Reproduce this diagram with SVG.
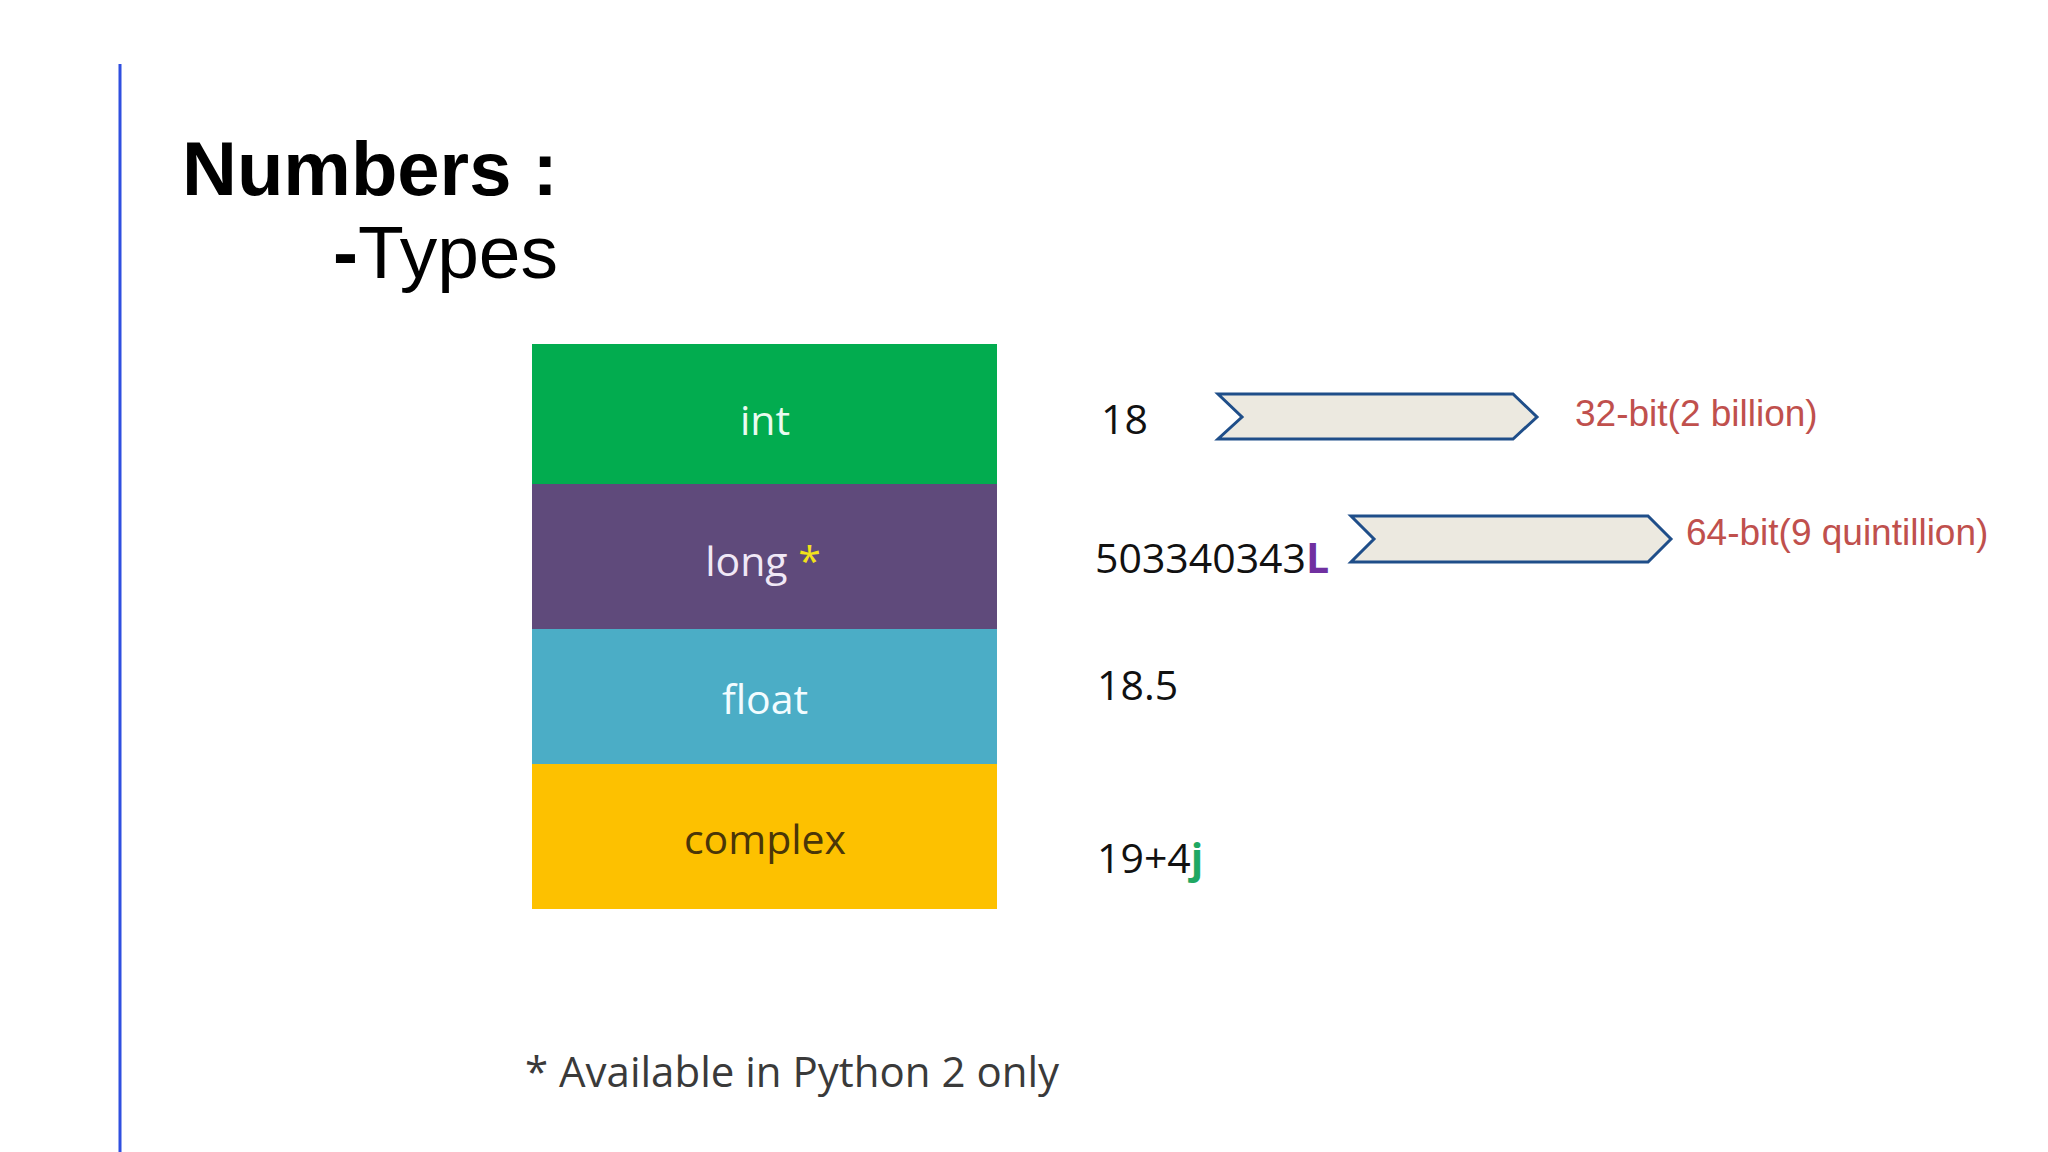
<svg xmlns="http://www.w3.org/2000/svg" width="2048" height="1152" viewBox="0 0 2048 1152">
  <defs>
    <style>
      .title { font-family: "Liberation Sans", Arial, sans-serif; fill: #000; }
      .lbl { font-family: "Open Sans", "Noto Sans", sans-serif; font-size: 41px; text-anchor: middle; }
      .val { font-family: "Open Sans", "Noto Sans", sans-serif; font-size: 41px; fill: #111; }
      .bits { font-family: "Liberation Sans", Arial, sans-serif; font-size: 37px; fill: #C0504D; }
      .chev { fill: #ECE9E0; stroke: #1F4E89; stroke-width: 3; stroke-linejoin: miter; }
      .note { font-family: "Open Sans", "Noto Sans", sans-serif; font-size: 42px; fill: #3a3a3a; }
    </style>
  </defs>
  <rect width="2048" height="1152" fill="#ffffff"/>
  <line x1="120" y1="64" x2="120" y2="1152" stroke="#2F4FE0" stroke-width="3"/>

  <g id="title">
    <text class="title" x="182" y="195" font-size="76" font-weight="bold">Numbers :</text>
    <text class="title" x="333" y="278" font-size="75"><tspan font-weight="bold">-</tspan>Types</text>
  </g>

  <g id="node-int">
    <rect x="532" y="344" width="465" height="140" fill="#02AC4F"/>
    <text class="lbl" x="765" y="435" fill="#EAFBF0">int</text>
  </g>
  <g id="node-long">
    <rect x="532" y="484" width="465" height="145" fill="#5F4A7B"/>
    <text class="lbl" x="763" y="576" fill="#F0E8F6">long <tspan fill="#F2E21A">*</tspan></text>
  </g>
  <g id="node-float">
    <rect x="532" y="629" width="465" height="135" fill="#4BADC6"/>
    <text class="lbl" x="765" y="714" fill="#F2FCFF">float</text>
  </g>
  <g id="node-complex">
    <rect x="532" y="764" width="465" height="145" fill="#FDC100"/>
    <text class="lbl" x="765" y="854" fill="#4A3608">complex</text>
  </g>

  <g id="values">
    <text class="val" x="1101" y="434">18</text>
    <text class="val" x="1095" y="573">503340343<tspan fill="#7030A0" font-weight="bold">L</tspan></text>
    <text class="val" x="1097" y="700">18.5</text>
    <text class="val" x="1097" y="873">19+4<tspan fill="#1FA862" font-weight="bold">j</tspan></text>
  </g>

  <g id="connectors">
    <polygon class="chev" points="1218,394 1513,394 1537,417 1513,439 1218,439 1242,417"/>
    <polygon class="chev" points="1351,516 1648,516 1671,539 1648,562 1351,562 1374,539"/>
  </g>

  <g id="bit-labels">
    <text class="bits" x="1575" y="426" font-size="38">32-bit(2 billion)</text>
    <text class="bits" x="1686" y="545">64-bit(9 quintillion)</text>
  </g>

  <g id="footnote">
    <text class="note" x="525" y="1087">* Available in Python 2 only</text>
  </g>
</svg>
